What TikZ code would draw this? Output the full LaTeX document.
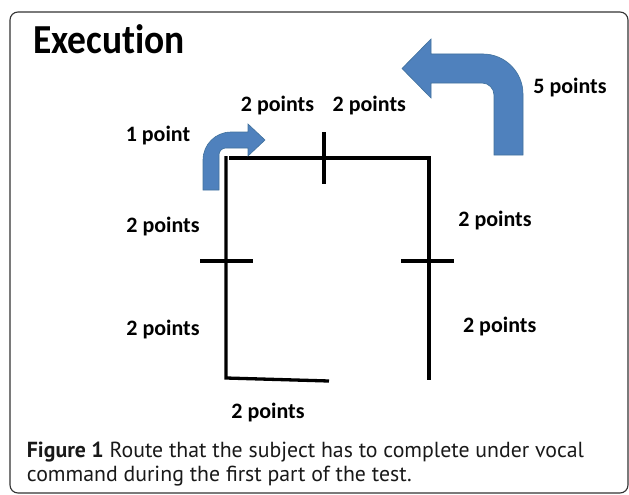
\documentclass[tikz,border=0pt]{standalone}
\usepackage{fontspec}
\setmainfont{Carlito}[Ligatures=NoCommon]
\newfontfamily\capfont{PT Sans}
\definecolor{arrowblue}{HTML}{4F81BD}
\definecolor{arrowedge}{HTML}{41719C}
\begin{document}
\begin{tikzpicture}[x=1pt,y=-1pt,
  route/.style={line width=3.3pt,black},
  lbl/.style={font=\fontsize{22}{24}\selectfont\bfseries,inner sep=0pt,anchor=base},
  captext/.style={font=\capfont\fontsize{21.8}{24}\selectfont,text=black!90,inner sep=0pt,anchor=base west},
  turnarrow/.style={fill=arrowblue,draw=arrowedge,line width=0.6pt,line join=miter}]
\useasboundingbox (0,0) rectangle (629,495);
% frame
\draw[line width=1.1pt,black!80,rounded corners=8pt] (10,12) rectangle (628,493);
% title
\node[font=\fontsize{37.5}{40}\selectfont\bfseries,inner sep=0pt,anchor=base west] (title) at (33,54) {\scalebox{1}[1.1]{Execution}};
% route
\coordinate (tl) at (226,156);
\coordinate (bl) at (226,378);
\coordinate (be) at (329,381);
\coordinate (ts) at (229,158);
\coordinate (tr) at (429,158);
\coordinate (br) at (429,380);
\draw[route] (tl) -- (bl) -- (be);
\draw[route] (ts) -- (tr) -- (br);
\coordinate (tt1) at (324,132); \coordinate (tt2) at (324,184);
\coordinate (lt1) at (200,261); \coordinate (lt2) at (253,261);
\coordinate (rt1) at (401,261); \coordinate (rt2) at (454,261);
\draw[route] (tt1) -- (tt2);
\draw[route] (lt1) -- (lt2);
\draw[route] (rt1) -- (rt2);
% small arrow
\draw[turnarrow] (203,190) -- (203,160) .. controls (203,144.5) and (215.5,132) .. (231,132)
  -- (248,132) -- (248,124) -- (265,140) -- (248,156) -- (248,148) -- (226,148)
  .. controls (222,148) and (219,151) .. (219,155) -- (219,190) -- cycle;
% big arrow
\draw[turnarrow] (523,155) -- (523,94) .. controls (523,72) and (505,54) .. (483,54)
  -- (431,54) -- (431,39) -- (402,68.5) -- (431,98) -- (431,83) -- (482,83)
  .. controls (488.6,83) and (494,88.4) .. (494,95) -- (494,155) -- cycle;
% labels
\node[lbl] (l5) at (570,93) {5 points};
\node[lbl] (ltop1) at (277.5,111.7) {2 points};
\node[lbl] (ltop2) at (369.3,111.3) {2 points};
\node[lbl] (l1) at (158,141.7) {1 point};
\node[lbl] (lleft1) at (163,232) {2 points};
\node[lbl] (lright1) at (495,226) {2 points};
\node[lbl] (lleft2) at (163,335) {2 points};
\node[lbl] (lright2) at (499.7,332.7) {2 points};
\node[lbl] (lbottom) at (268,418) {2 points};
% caption
\node[captext] (cap1) at (26.7,457.3) {\textbf{Figure 1} Route that the subject has to complete under vocal};
\node[captext] (cap2) at (26.7,481.7) {command during the first part of the test.};
\end{tikzpicture}
\end{document}
